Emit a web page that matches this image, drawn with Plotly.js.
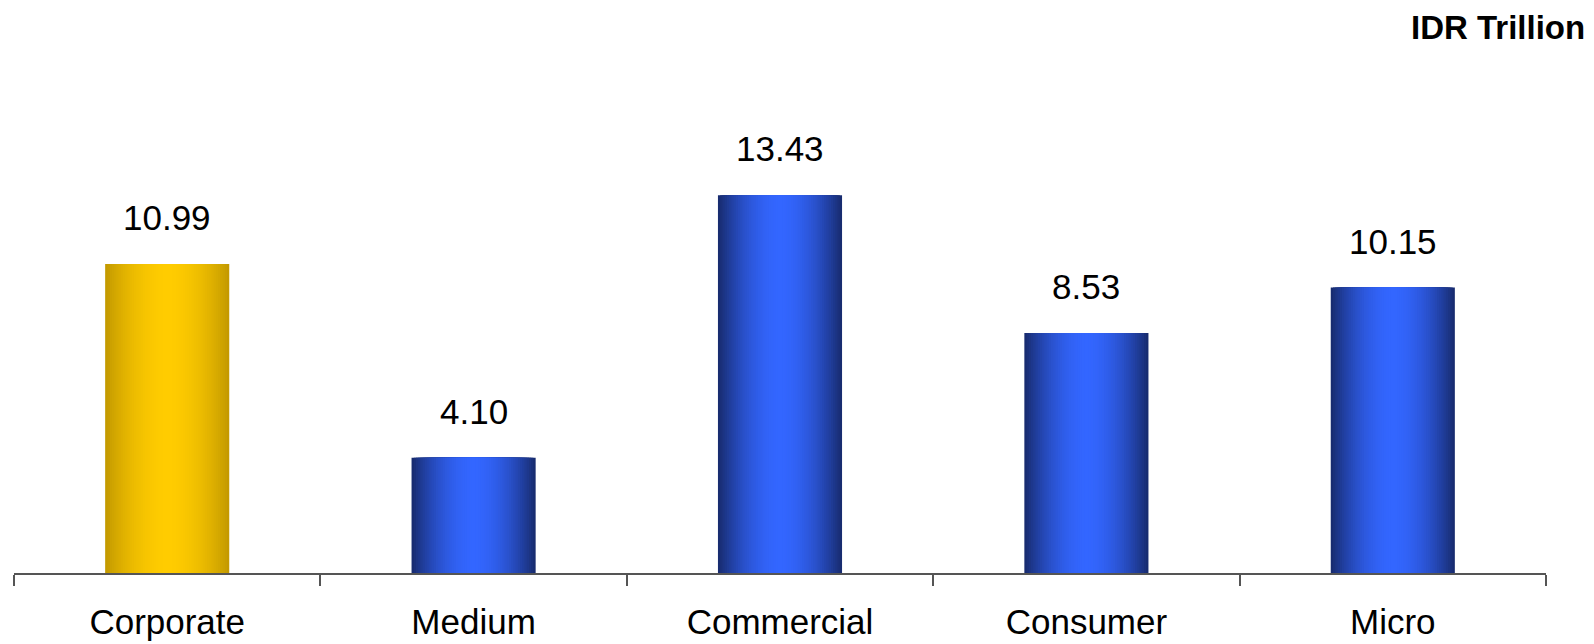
<!DOCTYPE html>
<html>
<head>
<meta charset="utf-8">
<script src="https://cdn.plot.ly/plotly-3.0.1.min.js"></script>
<style>html,body{margin:0;padding:0;background:#fff;}#chart{width:1594px;height:644px;}</style>
</head>
<body>
<div id="chart"></div>
<script>
const categories = ["Corporate", "Medium", "Commercial", "Consumer", "Micro"];
const values = [10.99, 4.10, 13.43, 8.53, 10.15];
const labels = ["10.99", "4.10", "13.43", "8.53", "10.15"];
const barKind = ["gold", "blue", "blue", "blue", "blue"];

const palette = {
  gold: {edge: [196, 154, 0], mid: [255, 204, 0]},
  blue: {edge: [24, 44, 112], mid: [51, 102, 255]}
};

function mix(a, b, t) {
  return 'rgb(' + a.map((v, i) => Math.round(v + (b[i] - v) * t)).join(',') + ')';
}

const N = 28;
const fullWidth = 0.405;
const traces = [];
for (let i = 0; i < N; i++) {
  const d = 1 - i / N;             // 1 at edge, ->0 at centre
  const w = fullWidth * d;
  const g = Math.pow(d, 1.9);
  traces.push({
    type: 'bar',
    x: categories,
    y: values,
    width: categories.map(() => w),
    marker: {
      color: barKind.map(k => mix(palette[k].mid, palette[k].edge, g)),
      line: {width: 0}
    },
    hoverinfo: 'skip',
    showlegend: false
  });
}

const annotations = categories.map((c, i) => ({
  x: c, y: values[i], text: labels[i], showarrow: false,
  yanchor: 'bottom', yshift: 25,
  font: {family: 'Liberation Sans, Arial, sans-serif', size: 35, color: '#000'}
}));
annotations.push({
  xref: 'paper', yref: 'paper', x: 1.027, y: 1, xanchor: 'right', yanchor: 'middle',
  yshift: 96, text: '<b>IDR Trillion</b>', showarrow: false,
  font: {family: 'Liberation Sans, Arial, sans-serif', size: 33, color: '#000'}
});

const layout = {
  width: 1594, height: 644,
  margin: {l: 14, r: 48, t: 123, b: 71, pad: 0},
  paper_bgcolor: '#fff', plot_bgcolor: '#fff',
  barmode: 'overlay',
  xaxis: {
    type: 'category',
    showline: true, linecolor: '#555', linewidth: 2,
    ticks: 'outside', tickson: 'boundaries', ticklen: 11, tickcolor: '#555', tickwidth: 2,
    ticklabelstandoff: 17,
    showgrid: false, zeroline: false,
    tickfont: {family: 'Liberation Sans, Arial, sans-serif', size: 35, color: '#000'},
    automargin: false
  },
  yaxis: {
    range: [0, 16], visible: false, showgrid: false, zeroline: false, fixedrange: true
  },
  annotations: annotations
};

Plotly.newPlot('chart', traces, layout, {displayModeBar: false, staticPlot: true});
</script>
</body>
</html>
